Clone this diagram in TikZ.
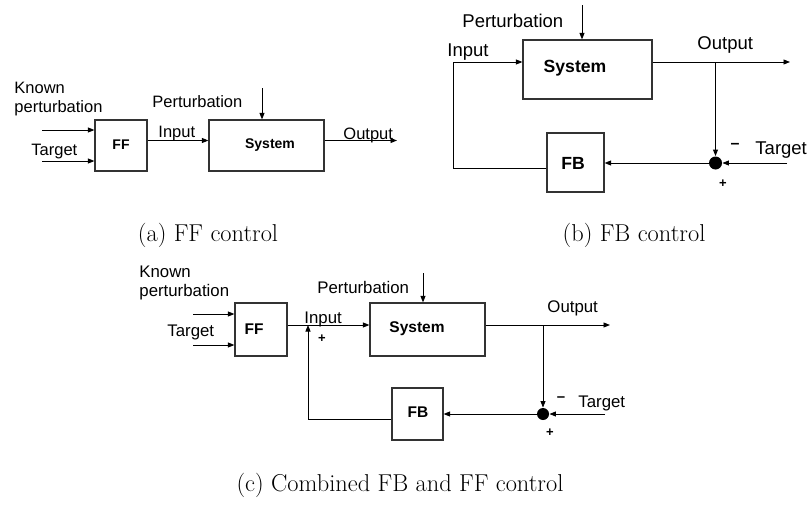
\documentclass[tikz,border=0pt]{standalone}
\usepackage{fontspec}
\newfontfamily\lab{Liberation Sans}
\usetikzlibrary{arrows.meta}
\begin{document}
\begin{tikzpicture}[x=1pt,y=-1pt,
  line width=0.9pt,
  >={Triangle[length=6.5pt,width=5pt]},
  blk/.style={draw=black!80,line width=1.2pt,inner sep=0pt,fill=white},
  sumdot/.style={circle,fill=black,inner sep=0pt,minimum size=#1},
  lba/.style={font=\lab\fontsize{16.5}{19}\selectfont,inner sep=0pt},
  lbb/.style={font=\lab\fontsize{18.5}{19}\selectfont,inner sep=0pt},
  lbc/.style={font=\lab\fontsize{16.8}{19}\selectfont,inner sep=0pt},
  bxa/.style={font=\lab\bfseries\fontsize{14}{16}\selectfont,inner sep=0pt},
  bxb/.style={font=\lab\bfseries\fontsize{17.6}{19}\selectfont,inner sep=0pt},
  bxc/.style={font=\lab\bfseries\fontsize{15.5}{17}\selectfont,inner sep=0pt},
  sgn/.style={font=\lab\bfseries\fontsize{13}{14}\selectfont,inner sep=0pt},
  captxt/.style={font=\fontsize{24.4}{29}\selectfont,inner sep=0pt,anchor=base}
]
\useasboundingbox (0,0) rectangle (809,506);

% ---------------- (a) FF control ----------------
\node[blk,minimum width=52pt,minimum height=51pt] (affb) at (121,145.5) {};
\node[blk,minimum width=115pt,minimum height=51pt] (asys) at (266.5,145.5) {};
\node[bxa] (afft) at (121,145) {FF};
\node[bxa] (asyst) at (270,145) {System};
\node[lba,align=left,anchor=west] (akp) at (14,99.5) {Known\\perturbation};
\node[lba,anchor=west] (atg) at (31,152) {Target};
\node[lba,anchor=west] (ain) at (158,134) {Input};
\node[lba,anchor=west] (apt) at (152,102) {Perturbation};
\node[lba,anchor=west] (aout) at (343,135) {Output};
\coordinate (akpin) at (42,130);
\coordinate (atgin) at (42,161);
\coordinate (aline) at (0,140.5);
\coordinate (aptin) at (262,88);
\coordinate (aoutend) at (397,140.5);
\draw[->] (akpin) -- (akpin -| affb.west);
\draw[->] (atgin) -- (atgin -| affb.west);
\draw[->] (affb.east |- aline) -- (asys.west |- aline);
\draw[->] (aptin) -- (aptin |- asys.north);
\draw[->] (asys.east |- aoutend) -- (aoutend);
\node[captxt] (capa) at (208,241.5) {(a) FF control};

% ---------------- (b) FB control ----------------
\node[blk,minimum width=129pt,minimum height=59pt] (bsys) at (587.5,69.5) {};
\node[blk,minimum width=57pt,minimum height=59pt] (bfb) at (575.5,162.5) {};
\node[bxb] (bsyst) at (575,68) {System};
\node[bxb] (bfbt) at (573,163) {FB};
\node[sumdot=13pt] (bsum) at (715.5,163) {};
\node[lbb,anchor=west] (bpt) at (462,21) {Perturbation};
\node[lbb,anchor=west] (bin) at (447,52) {Input};
\node[lbb,anchor=west] (bout) at (697,45) {Output};
\node[lbb,anchor=west] (btg) at (755,150) {Target};
\node[sgn] (bmin) at (735,146) {\fontsize{16}{16}\selectfont –};
\node[sgn] (bpl) at (723,184) {+};
\coordinate (bptin) at (582,5);
\coordinate (blb) at (453,168);
\coordinate (blt) at (453,62);
\coordinate (boutend) at (790,62);
\coordinate (bbr) at (715.5,62);
\coordinate (btgin) at (787,163);
\draw[->] (bptin) -- (bptin |- bsys.north);
\draw[->] (blb -| bfb.west) -- (blb) -- (blt) -- (blt -| bsys.west);
\draw[->] (bsys.east |- boutend) -- (boutend);
\draw[->] (bbr) -- (bsum.north);
\draw[->] (btgin) -- (bsum.east);
\draw[->] (bsum.west) -- (bsum.west -| bfb.east);
\node[captxt] (capb) at (634,241.5) {(b) FB control};

% ---------------- (c) Combined ----------------
\node[blk,minimum width=52pt,minimum height=53pt] (cffb) at (261,329.5) {};
\node[blk,minimum width=115pt,minimum height=53pt] (csys) at (427.5,329.5) {};
\node[blk,minimum width=51pt,minimum height=52pt] (cfb) at (417.5,414) {};
\node[bxc] (cfft) at (254,329) {FF};
\node[bxc] (csyst) at (417,329) {System};
\node[bxc] (cfbt) at (418,412) {FB};
\node[sumdot=12pt] (csum) at (543,414) {};
\node[lbc,align=left,anchor=west] (ckp) at (139,283) {Known\\perturbation};
\node[lbc,anchor=west] (ctgl) at (167,332) {Target};
\node[lbc,anchor=west] (cin) at (304,319) {Input};
\node[lbc,anchor=west] (cpt) at (317,287) {Perturbation};
\node[lbc,anchor=west] (cout) at (547,308) {Output};
\node[lbc,anchor=west] (ctgr) at (578,403) {Target};
\node[sgn] (cmin) at (561,399) {\fontsize{15}{15}\selectfont –};
\node[sgn] (cpl) at (550,433) {+};
\node[sgn] (cpl2) at (322,339) {+};
\coordinate (ckpin) at (193,314);
\coordinate (ctgin) at (193,345);
\coordinate (cline) at (0,325);
\coordinate (clb) at (308,419);
\coordinate (clt) at (308,325);
\coordinate (cptin) at (423,273);
\coordinate (coutend) at (610,325);
\coordinate (cbr) at (543,325);
\coordinate (ctgrin) at (605,414);
\draw[->] (ckpin) -- (ckpin -| cffb.west);
\draw[->] (ctgin) -- (ctgin -| cffb.west);
\draw[->] (cffb.east |- cline) -- (csys.west |- cline);
\draw[->] (clb -| cfb.west) -- (clb) -- (clt);
\draw[->] (cptin) -- (cptin |- csys.north);
\draw[->] (csys.east |- coutend) -- (coutend);
\draw[->] (cbr) -- (csum.north);
\draw[->] (ctgrin) -- (csum.east);
\draw[->] (csum.west) -- (csum.west -| cfb.east);
\node[captxt] (capc) at (400,491.5) {(c) Combined FB and FF control};
\end{tikzpicture}
\end{document}
